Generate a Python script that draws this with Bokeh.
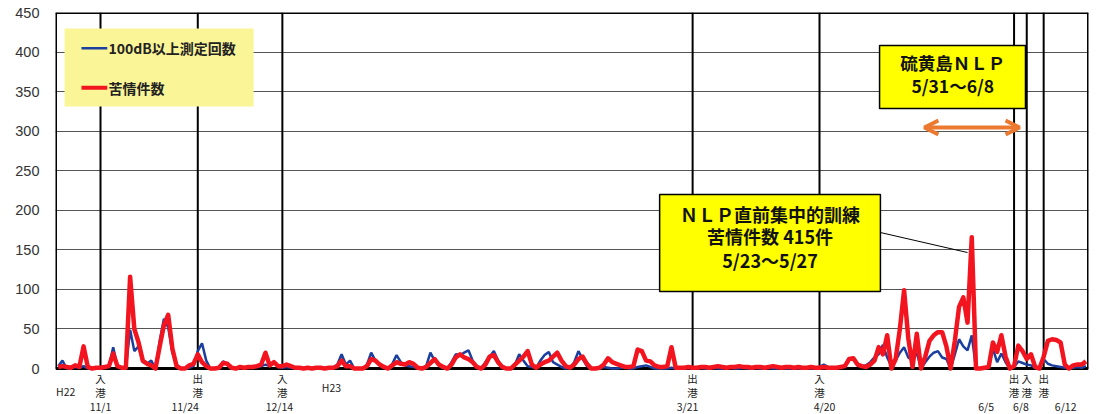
import numpy as np
import pandas as pd
from bokeh.plotting import figure
from bokeh.models import Range1d, Label, Arrow, OpenHead
from bokeh.embed import file_html
from bokeh.resources import INLINE

# ---------------- data ----------------
origin = pd.Timestamp("2010-10-21")
first_day = pd.Timestamp("2010-10-22")

# 苦情件数 (daily, 2010-10-22 .. 2011-06-22)
complaints = [
    2, 3, 2, 1, 4, 2, 28, 2, 0, 1,
    1, 2, 3, 19, 3, 1, 1, 116, 50, 33,
    10, 6, 4, 0, 28, 55, 68, 25, 3, 0,
    0, 4, 6, 18, 8, 3, 0, 0, 1, 7,
    6, 1, 0, 2, 1, 2, 2, 3, 5, 20,
    4, 8, 3, 3, 5, 3, 1, 1, 0, 1,
    0, 1, 1, 0, 1, 1, 3, 10, 3, 3,
    0, 0, 0, 3, 12, 10, 5, 2, 0, 4,
    8, 6, 5, 8, 6, 1, 0, 2, 7, 12,
    5, 2, 0, 5, 14, 18, 14, 12, 8, 2,
    0, 5, 15, 17, 8, 2, 0, 0, 5, 10,
    15, 22, 5, 1, 5, 8, 10, 15, 20, 10,
    3, 1, 5, 12, 15, 6, 0, 0, 1, 5,
    13, 8, 6, 4, 2, 2, 3, 24, 22, 10,
    9, 4, 2, 2, 3, 27, 1,
    1, 1, 2, 1, 1, 2, 2, 1, 2, 3, 2, 1, 2, 2, 3, 2, 2, 1, 2, 2,
    1, 2, 3, 2, 1, 2, 2, 1, 2, 1, 1, 2, 1,
    1, 2, 1, 1, 1, 2, 3, 12, 13, 5,
    3, 2, 5, 10, 27, 18, 42, 0, 12, 50,
    99, 38, 2, 44, 0, 15, 35, 42, 46, 46,
    28, 0, 35, 78, 90, 58, 166, 0, 0, 1,
    2, 33, 21, 42, 15, 0, 3, 29, 22, 12,
    18, 2, 0, 15, 35, 37, 36, 33, 5, 0,
    4, 5, 5, 9,
]

# 100dB以上測定回数
noise_100db = [
    3, 10, 0, 1, 2, 1, 3, 0, 0, 1,
    1, 1, 3, 27, 3, 1, 1, 49, 22, 28,
    8, 6, 10, 0, 35, 63, 52, 20, 5, 0,
    0, 1, 3, 22, 32, 10, 0, 0, 1, 9,
    6, 1, 0, 1, 1, 1, 1, 2, 3, 5,
    3, 9, 2, 1, 2, 1, 0, 0, 0, 0,
    0, 0, 0, 0, 0, 1, 5, 18, 5, 10,
    0, 0, 0, 5, 20, 10, 6, 2, 0, 6,
    17, 8, 4, 3, 2, 1, 0, 3, 20, 10,
    6, 2, 0, 8, 18, 17, 20, 23, 10, 2,
    0, 8, 15, 22, 10, 3, 0, 0, 5, 18,
    10, 3, 2, 1, 10, 17, 21, 8, 5, 2,
    0, 1, 8, 22, 12, 3, 0, 0, 0, 2,
    1, 0, 0, 1, 2, 0, 0, 2, 3, 4,
    2, 0, 0, 0, 0, 1, 0,
    0, 0, 1, 0, 0, 1, 0, 0, 1, 0, 0, 1, 1, 0, 0, 1, 0, 0, 1, 0,
    0, 1, 0, 0, 1, 0, 0, 1, 0, 0, 1, 0, 1,
    2, 5, 2, 1, 1, 1, 4, 13, 12, 4,
    3, 4, 8, 14, 18, 30, 14, 3, 10, 20,
    27, 14, 10, 20, 0, 8, 15, 20, 22, 14,
    12, 0, 18, 37, 28, 23, 42, 0, 0, 0,
    1, 25, 8, 19, 8, 0, 2, 9, 7, 5,
    4, 1, 0, 12, 6, 4, 3, 2, 1, 0,
    1, 2, 1, 3,
]

y_ticks = [0, 50, 100, 150, 200, 250, 300, 350, 400, 450]

event_dates = ["2010-11-01", "2010-11-24", "2010-12-14", "2011-03-21",
               "2011-04-20", "2011-06-05", "2011-06-08", "2011-06-12"]
event_kinds = ["入港", "出港", "入港", "出港", "入港", "出港", "入港", "出港"]
date_texts = ["11/1", "11/24", "12/14", "3/21", "4/20", "6/5", "6/8", "6/12"]
date_shift = [0, -3.0, -0.7, -1.2, 1.2, -6.6, -1.4, 5.2]

era_texts = ["H22", "H23"]
series_names = ["100dB以上測定回数", "苦情件数"]

# ---------------- figure ----------------
days = np.arange(len(complaints)) + (first_day - origin).days
event_days = [(pd.Timestamp(d) - origin).days for d in event_dates]

X0, X1 = 0.36, 244.6
Y_TOP = 450
Y_BOT = -58.1   # room below zero for the event labels

p = figure(width=1112, height=414, output_backend="svg", toolbar_location=None,
           x_range=Range1d(X0, X1), y_range=Range1d(Y_BOT, Y_TOP),
           min_border_left=55, min_border_right=24, min_border_top=12, min_border_bottom=0)
p.background_fill_color = "white"
p.border_fill_color = "white"
p.outline_line_color = None

p.xaxis.visible = False
p.xgrid.grid_line_color = None
p.ygrid.ticker = y_ticks
p.ygrid.grid_line_color = "#555555"
p.ygrid.grid_line_width = 1
p.yaxis.ticker = y_ticks
p.yaxis.major_tick_line_color = None
p.yaxis.minor_tick_line_color = None
p.yaxis.axis_line_color = None
p.yaxis.major_label_standoff = 10
p.yaxis.major_label_text_font = "Liberation Sans"
p.yaxis.major_label_text_font_size = "14.5px"
p.yaxis.major_label_text_color = "#333333"

# plot-area border (0..450 only)
p.segment(x0=[X0, X1, X0, X0], y0=[0, 0, 0, Y_TOP], x1=[X0, X1, X1, X1], y1=[Y_TOP, Y_TOP, 0, Y_TOP],
          line_color="black", line_width=3)

# event (port call) lines
p.segment(x0=event_days, y0=[0] * len(event_days), x1=event_days, y1=[Y_TOP] * len(event_days),
          line_color="black", line_width=2)

BLUE = "#1B3F9E"
RED = "#F2141E"
p.line(days, noise_100db, line_color=BLUE, line_width=2.5)
p.line(days, complaints, line_color=RED, line_width=4.5, line_join="round")

# legend box
p.quad(left=[2.5], right=[47.2], top=[429.8], bottom=[331.2], fill_color="#FAF596", line_color=None)
p.line([6.5, 12.6], [404.9, 404.9], line_color=BLUE, line_width=2.5)
p.line([6.5, 12.6], [354.8, 354.8], line_color=RED, line_width=4)
for yv, t in zip([404.9, 354.8], series_names):
    p.add_layout(Label(x=12.9, y=yv, text=t, text_font="Noto Sans CJK JP",
                       text_font_size="14px", text_font_style="bold",
                       text_color="#222222", text_baseline="middle", text_align="left"))

# NLP box
p.quad(left=[143.2], right=[195.4], top=[219.9], bottom=[97.3],
       fill_color="#FFFF00", line_color="black", line_width=1.5)
for yv, t in zip([195.9, 168.1, 137.8], ["ＮＬＰ直前集中的訓練", "苦情件数 415件", "5/23～5/27"]):
    p.add_layout(Label(x=169.3, y=yv, text=t, text_font="Noto Sans CJK JP",
                       text_font_size="18px", text_font_style="bold",
                       text_color="#111111", text_baseline="middle", text_align="center"))
p.line([195.4, 216.0], [171.9, 146.6], line_color="black", line_width=1)

# Iwo Jima box
p.quad(left=[195.2], right=[229.7], top=[408.3], bottom=[328.7],
       fill_color="#FFFF00", line_color="black", line_width=1.5)
for yv, t in zip([386.8, 357.7], ["硫黄島ＮＬＰ", "5/31～6/8"]):
    p.add_layout(Label(x=212.5, y=yv, text=t, text_font="Noto Sans CJK JP",
                       text_font_size="17.5px", text_font_style="bold",
                       text_color="#111111", text_baseline="middle", text_align="center"))

ORANGE = "#EB7A30"
p.add_layout(Arrow(x_start=205.8, y_start=304.6, x_end=228.3, y_end=304.6,
                   line_color=ORANGE, line_width=4,
                   start=OpenHead(line_color=ORANGE, line_width=4, size=14),
                   end=OpenHead(line_color=ORANGE, line_width=4, size=14)))

# labels below the plot area
row_y = [-12.6, -30.3, -48.0]
lab_font = "Noto Sans CJK JP"
for d, kind, dt, sh in zip(event_days, event_kinds, date_texts, date_shift):
    for ch, yv in zip(kind, row_y[:2]):
        p.add_layout(Label(x=d, y=yv, text=ch, text_font=lab_font, text_font_size="10.5px",
                           text_color="#222222", text_align="center", text_baseline="middle"))
    p.add_layout(Label(x=d + sh, y=row_y[2], text=dt, text_font=lab_font, text_font_size="10.5px",
                       text_color="#222222", text_align="center", text_baseline="middle"))
for t, xv, yv, al in zip(era_texts, [0.5, 65.6], [-29.1, -23.6], ["left", "center"]):
    p.add_layout(Label(x=xv, y=yv, text=t, text_font=lab_font, text_font_size="10.5px",
                       text_color="#222222", text_align=al, text_baseline="middle"))

open("out.html", "w").write(file_html(p, INLINE))
